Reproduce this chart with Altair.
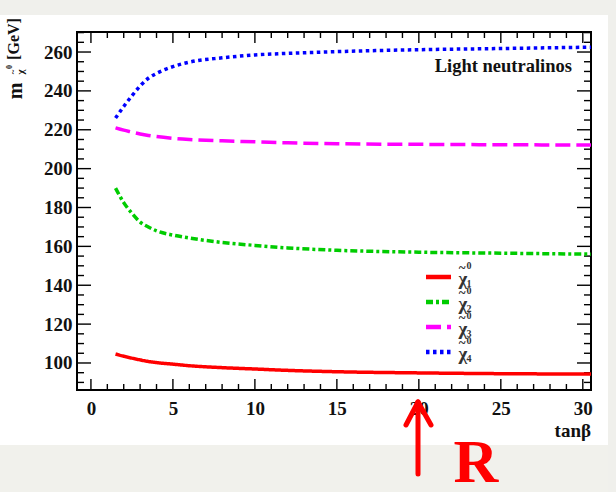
import altair as alt
import pandas as pd

# ---- data ----
tanb = [1.5, 2, 2.5, 3, 3.5, 4, 5, 6, 8, 10, 12, 15, 20, 25, 30.5]
chi1 = [104.6, 103.5, 102.5, 101.6, 100.8, 100.2, 99.4, 98.6, 97.6, 96.9, 96.2, 95.5, 94.9, 94.5, 94.3]
chi2 = [190, 182.5, 177, 172.5, 170, 168, 165.8, 164.3, 162, 160.5, 159.2, 158, 157, 156.5, 156]
chi3 = [221, 219.8, 218.8, 217.8, 217.1, 216.5, 215.6, 215, 214.3, 213.8, 213.3, 212.8, 212.5, 212.3, 212.1]
chi4 = [226, 232, 237.5, 242.5, 246.5, 249, 252.5, 254.8, 257, 258.5, 259.3, 260.2, 261.2, 261.8, 262.5]

names = ["chi1", "chi2", "chi3", "chi4"]
indices = ["1", "2", "3", "4"]
colors = ["#ff0000", "#00cc00", "#ff00ff", "#0000ff"]
dashes = [[1, 0], [7, 3, 3, 3], [15, 6], [3.5, 3.5]]

x_major = [0, 5, 10, 15, 20, 25, 30]
x_minor = [v for v in range(0, 31) if v % 5 != 0]
y_major = [100, 120, 140, 160, 180, 200, 220, 240, 260]
y_minor = [v for v in range(90, 271, 5) if v % 20 != 0]

W, H = 514, 358
FONT = "Liberation Serif"

rows = []
for n, ys in zip(names, [chi1, chi2, chi3, chi4]):
    for t, m in zip(tanb, ys):
        rows.append({"tanb": t, "mass": m, "series": n})
df = pd.DataFrame(rows)

xscale = alt.Scale(domain=[-0.85, 30.5], nice=False, zero=False)
yscale = alt.Scale(domain=[86.1, 270.3], nice=False, zero=False)

X_AX = alt.Axis(values=x_major, ticks=False, domain=False, grid=False, title=None,
                labelFont=FONT, labelFontSize=19, labelFontWeight="bold",
                labelColor="#111", labelPadding=9, labelFlush=False, format="d")
Y_AX = alt.Axis(values=y_major, ticks=False, domain=False, grid=False, title=None,
                labelFont=FONT, labelFontSize=19, labelFontWeight="bold",
                labelColor="#111", labelPadding=5, format="d")

lines = alt.Chart(df).mark_line(strokeWidth=3.5, interpolate="monotone", clip=True).encode(
    x=alt.X("tanb:Q", scale=xscale, axis=X_AX),
    y=alt.Y("mass:Q", scale=yscale, axis=Y_AX),
    color=alt.Color("series:N", scale=alt.Scale(domain=names, range=colors), legend=None),
    strokeDash=alt.StrokeDash("series:N", scale=alt.Scale(domain=names, range=dashes), legend=None),
    order=alt.Order("tanb:Q"),
)

def yticks(vals, length):
    d = pd.DataFrame({"mass": vals})
    left = alt.Chart(d).mark_rule(color="black", strokeWidth=1.4).encode(
        y=alt.Y("mass:Q", scale=yscale, axis=Y_AX), x=alt.value(0), x2=alt.value(length))
    right = alt.Chart(d).mark_rule(color="black", strokeWidth=1.4).encode(
        y=alt.Y("mass:Q", scale=yscale, axis=Y_AX), x=alt.value(W), x2=alt.value(W - length))
    return [left, right]

def xticks(vals, length):
    d = pd.DataFrame({"tanb": vals})
    bot = alt.Chart(d).mark_rule(color="black", strokeWidth=1.4).encode(
        x=alt.X("tanb:Q", scale=xscale, axis=X_AX), y=alt.value(H), y2=alt.value(H - length))
    top = alt.Chart(d).mark_rule(color="black", strokeWidth=1.4).encode(
        x=alt.X("tanb:Q", scale=xscale, axis=X_AX), y=alt.value(0), y2=alt.value(length))
    return [bot, top]

one = pd.DataFrame({"a": [0]})

def rect(x, x2, y, y2, color):
    return alt.Chart(one).mark_rect(color=color).encode(
        x=alt.value(x), x2=alt.value(x2), y=alt.value(y), y2=alt.value(y2))

def txt(text, x, y, size, color="#111", align="center", baseline="middle", angle=0, weight="bold"):
    return alt.Chart(one).mark_text(text=text, font=FONT, fontSize=size, fontWeight=weight,
                                    color=color, align=align, baseline=baseline, angle=angle).encode(
        x=alt.value(x), y=alt.value(y))

def seg(x, y, x2, y2):
    return alt.Chart(one).mark_rule(color="#ff0000", strokeWidth=5, strokeCap="round").encode(
        x=alt.value(x), y=alt.value(y), x2=alt.value(x2), y2=alt.value(y2))

# legend drawn by hand (symbol + stacked chi label)
legend = []
LX, LY0, LDY = 349, 245, 25
for i, (n, c, d, idx) in enumerate(zip(names, colors, dashes, indices)):
    ly = LY0 + i * LDY
    legend.append(alt.Chart(one).mark_rule(color=c, strokeWidth=4.5, strokeDash=d).encode(
        x=alt.value(LX), x2=alt.value(LX + 25), y=alt.value(ly)))
    legend.append(txt("χ", LX + 37, ly + 2, 19, color="#333"))
    legend.append(txt("~", LX + 36, ly - 9, 13, color="#333"))
    legend.append(txt("0", LX + 43, ly - 11, 10, color="#333"))
    legend.append(txt(idx, LX + 43, ly + 7, 10, color="#333"))

bg = [
    rect(-77, 539, -32, -17, "#f0f0ec"),
    rect(-77, 539, 413, 460, "#f1f1ec"),
    rect(531, 539, -32, 460, "#f0f0ec"),
]

annot = [
    txt("Light neutralinos", 495, 40, 18.5, align="right", baseline="alphabetic"),
    txt("tanβ", W, 399, 19, align="right"),
    txt("[GeV]", -63, 7, 16, angle=270),
    txt("m", -61, 59, 20, angle=270),
    txt("χ", -56, 40, 11, angle=270),
    txt("~", -64, 40, 9, angle=270),
    txt("0", -67, 35, 8, angle=270),
    seg(341, 370, 341, 442),
    seg(341, 370, 329, 393),
    seg(341, 370, 354, 393),
    txt("R", 399, 431, 62, color="#ff0000", baseline="middle"),
]

layers = bg + yticks(y_major, 14) + yticks(y_minor, 7) + xticks(x_major, 11) + xticks(x_minor, 6) + [lines] + legend + annot

chart = alt.layer(*layers).properties(
    width=W, height=H,
    autosize=alt.AutoSizeParams(type="none"),
    padding={"left": 77, "top": 32, "right": 25, "bottom": 102},
    background="white",
).configure_view(stroke="black", strokeWidth=2)

chart.save("out.html", embed_options={"renderer": "svg", "actions": False})
